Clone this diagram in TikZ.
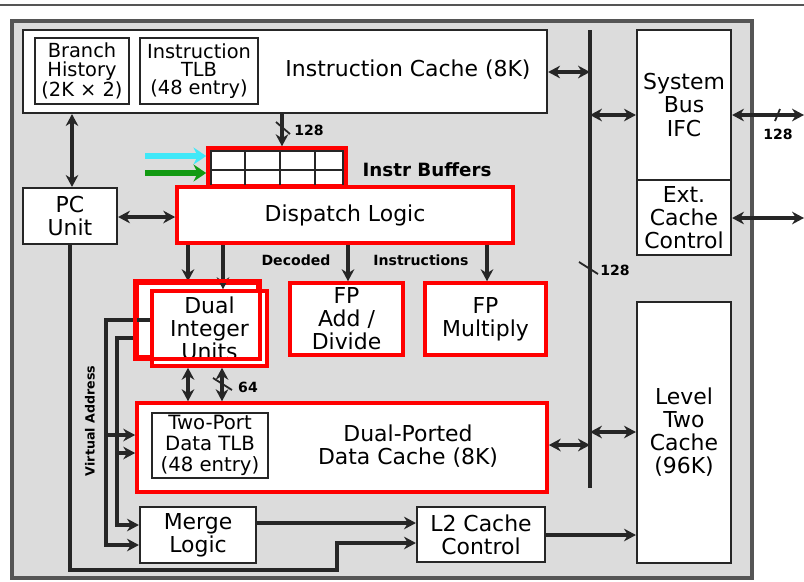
\documentclass[tikz,border=0pt]{standalone}
\usepackage{fontspec}
\setmainfont{DejaVu Sans}
\usepackage{xcolor}
\usepackage{tikz}
\usetikzlibrary{arrows.meta, positioning, calc}
\definecolor{inkgray}{HTML}{262626}
\definecolor{framegray}{HTML}{555555}
\definecolor{paperdot}{HTML}{DCDCDC}
\definecolor{hilitered}{HTML}{FF0000}
\definecolor{feedcyan}{HTML}{40E8F8}
\definecolor{feedgreen}{HTML}{129A12}
\tikzstyle{unitbox} = [rectangle, draw=inkgray, fill=white, line width=1.5pt, align=center, inner sep=0pt,
  text=black, font=\fontsize{15.6}{16.4}\selectfont]
\tikzstyle{tlbbox} = [unitbox, font=\fontsize{13.8}{12.9}\selectfont]
\tikzstyle{redbox} = [unitbox, draw=hilitered, line width=2.5pt]
\tikzstyle{boxtext} = [align=center, inner sep=0pt, text=black, font=\fontsize{15.6}{16.4}\selectfont]
\tikzstyle{tag} = [inner sep=1pt, text=black, font=\bfseries\fontsize{10}{10}\selectfont]
\tikzstyle{wire} = [draw=inkgray, line width=2.6pt]
\tikzstyle{tick} = [draw=inkgray, line width=1.3pt]
\tikzstyle{arrow} = [wire, -{Stealth[length=8.5pt,width=9pt]}]
\tikzstyle{dblarrow} = [wire, {Stealth[length=8.5pt,width=9pt]}-{Stealth[length=8.5pt,width=9pt]}]
\tikzstyle{feedarrow} = [line width=3.6pt, -{Stealth[length=9pt,width=12pt]}]

\begin{document}
\begin{tikzpicture}[x=0.025cm, y=-0.025cm]
  \useasboundingbox (0,0) rectangle (804,581);
  % page rule and chip frame
  \draw[framegray, line width=2pt] (0,5) -- (804,5);
  \draw[framegray, line width=2.4pt, fill=paperdot] (12,21) rectangle (752,578);

  % instruction side
  \node (icache) [unitbox, minimum width=13.1cm, minimum height=2.075cm] at (285,71.5) {};
  \node (icachelbl) [boxtext] at (408,70) {Instruction Cache (8K)};
  \node (bht) [tlbbox, minimum width=2.35cm, minimum height=1.65cm] at (82,71) {Branch\\History\\(2K × 2)};
  \node (itlb) [tlbbox, minimum width=2.95cm, minimum height=1.65cm] at (199,71) {Instruction\\TLB\\(48 entry)};
  \node (pcunit) [unitbox, minimum width=2.35cm, minimum height=1.4cm] at (70,216) {PC\\Unit};

  \node (ibuf) [redbox, minimum width=3.45cm, minimum height=0.95cm] at (277,167) {};
  \draw[inkgray, line width=1pt] (211,151) rectangle (343,187);
  \draw[inkgray, line width=1pt] (211,170) -- (343,170);
  \foreach \gx in {245,280,315}
    \draw[inkgray, line width=1pt] (\gx,151) -- (\gx,187);
  \node (ibuflbl) [tag, font=\bfseries\fontsize{13}{13}\selectfont] at (427,170) {Instr Buffers};
  \node (dispatch) [redbox, minimum width=8.4cm, minimum height=1.4cm] at (345,215) {Dispatch Logic};

  % execution units
  \node (intback) [redbox, minimum width=3.025cm, minimum height=1.85cm] at (197.5,320) {};
  \node (intunit) [redbox, minimum width=2.875cm, minimum height=1.875cm] at (209.5,328.5) {Dual\\Integer\\Units};
  \node (fpadd) [redbox, minimum width=2.825cm, minimum height=1.8cm] at (346.5,319) {FP\\Add /\\Divide};
  \node (fpmul) [redbox, minimum width=3.025cm, minimum height=1.8cm] at (485.5,319) {FP\\Multiply};
  \node (declbl) [tag] at (296,260) {Decoded};
  \node (inslbl) [tag] at (421,260) {Instructions};

  % data side
  \node (dcache) [redbox, minimum width=10.25cm, minimum height=2.225cm] at (342,447.5) {};
  \node (dcachelbl) [boxtext] at (408,446) {Dual-Ported\\Data Cache (8K)};
  \node (dtlb) [tlbbox, font=\fontsize{14}{15}\selectfont, minimum width=2.9cm, minimum height=1.625cm] at (210,445.5) {Two-Port\\Data TLB\\(48 entry)};
  \node (merge) [unitbox, minimum width=2.9cm, minimum height=1.4cm] at (198,535) {Merge\\Logic};
  \node (l2ctl) [unitbox, minimum width=3.2cm, minimum height=1.375cm] at (481,534.5) {L2 Cache\\Control};
  \node (vaddr) [tag, rotate=90, font=\bfseries\fontsize{9}{9}\selectfont] at (90,421) {Virtual Address};

  % external side
  \node (sysbus) [unitbox, minimum width=2.35cm, minimum height=3.75cm] at (684,105) {System\\Bus\\IFC};
  \node (extctl) [unitbox, minimum width=2.35cm, minimum height=1.875cm] at (684,217.5) {Ext.\\Cache\\Control};
  \node (l2cache) [unitbox, minimum width=2.35cm, minimum height=6.525cm] at (684,432.5) {Level\\Two\\Cache\\(96K)};

  % internal bus
  \coordinate (bustop) at (590,30);
  \coordinate (busbot) at (590,488);
  \draw[wire, line width=3.4pt] (bustop) -- (busbot);
  \draw[tick] (579,262) -- (598,274);
  \node (bustag) [tag] at (615,270) {128};

  \draw[dblarrow] (icache.east |- 0,72) -- (bustop |- 0,72);
  \draw[dblarrow] (bustop |- 0,115) -- (sysbus.west |- 0,115);
  \draw[dblarrow] (bustop |- 0,432) -- (l2cache.west |- 0,432);
  \draw[dblarrow] (dcache.east |- 0,445) -- (bustop |- 0,445);

  \coordinate (sysout) at (804,115);
  \coordinate (extout) at (804,218);
  \draw[dblarrow] (sysbus.east |- sysout) -- (sysout);
  \draw[tick] (775,121) -- (780,109);
  \node (outtag) [tag] at (778,134) {128};
  \draw[dblarrow] (extctl.east |- extout) -- (extout);

  % fetch path
  \draw[dblarrow] (icache.south -| 72,0) -- (pcunit.north -| 72,0);
  \draw[dblarrow] (pcunit.east |- 0,217) -- (dispatch.west |- 0,217);
  \draw[arrow] (icache.south -| 282,0) -- (ibuf.north -| 282,0);
  \draw[tick] (276,122) -- (290,134);
  \node (fetchtag) [tag] at (309,130) {128};
  \coordinate (cyanin) at (145,156);
  \coordinate (greenin) at (145,173);
  \draw[feedarrow, feedcyan] (cyanin) -- (ibuf.west |- cyanin);
  \draw[feedarrow, feedgreen] (greenin) -- (ibuf.west |- greenin);

  % issue
  \draw[arrow] (dispatch.south -| 188,0) -- (intback.north -| 188,0);
  \draw[arrow] (dispatch.south -| 223,0) -- (intunit.north -| 223,0);
  \draw[arrow] (dispatch.south -| 348,0) -- (fpadd.north -| 348,0);
  \draw[arrow] (dispatch.south -| 487,0) -- (fpmul.north -| 487,0);

  % load / store
  \draw[dblarrow] (intunit.south -| 188,0) -- (dcache.north -| 188,0);
  \draw[dblarrow] (intunit.south -| 222,0) -- (dcache.north -| 222,0);
  \draw[tick] (213,378) -- (232,390);
  \node (ldtag) [tag] at (248,387) {64};

  % virtual address wires
  \draw[arrow] (intunit.west |- 0,320) -| (106,545) -- (merge.west |- 0,545);
  \draw[arrow] (106,435) -- (dcache.west |- 0,435);
  \draw[arrow] (intback.west |- 0,338) -| (117,525) -- (merge.west |- 0,525);
  \draw[arrow] (117,453) -- (dcache.west |- 0,453);

  % to level two
  \draw[arrow] (merge.east |- 0,523) -- (l2ctl.west |- 0,523);
  \draw[arrow] (pcunit.south) |- (337,570) |- (l2ctl.west |- 0,543);
  \draw[arrow] (l2ctl.east |- 0,535) -- (l2cache.west |- 0,535);

  \draw[hilitered, line width=2.5pt] (intback.north west) rectangle (intback.south east);
\end{tikzpicture}
\end{document}
